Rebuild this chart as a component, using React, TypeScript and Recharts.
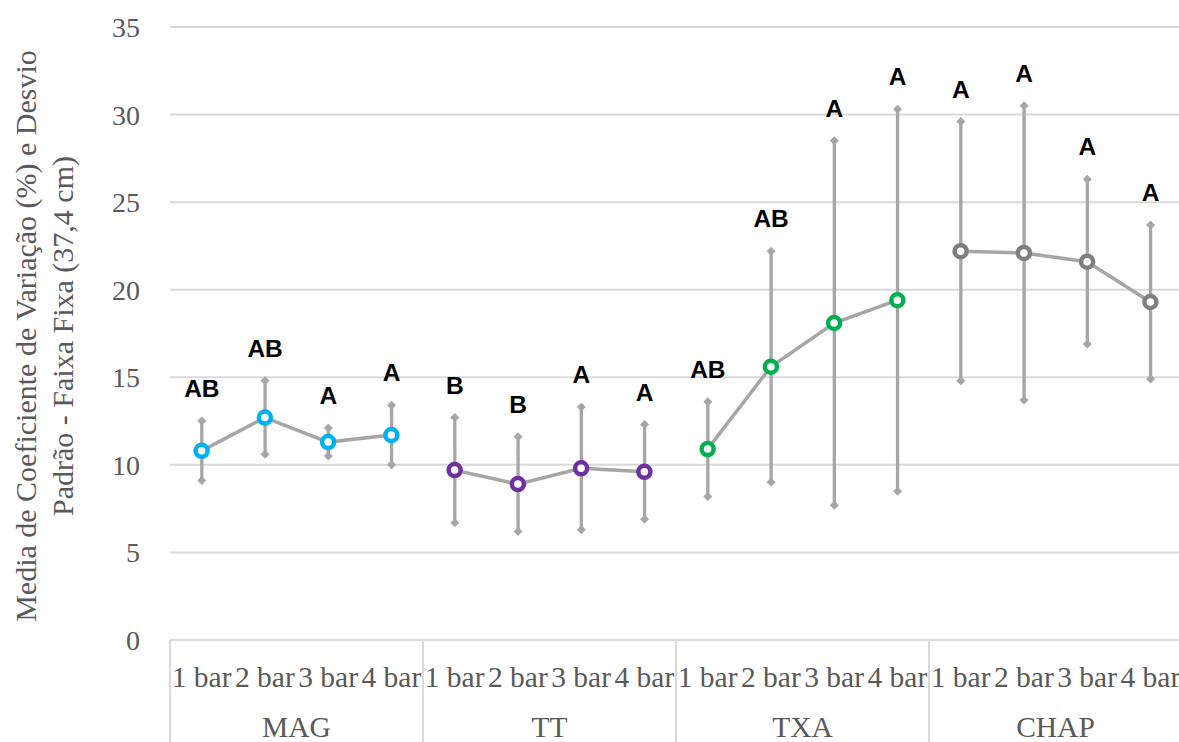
import React from "react";
import { ComposedChart, Bar, Line, XAxis, YAxis, CartesianGrid } from "recharts";

const groups = ["MAG", "TT", "TXA", "CHAP"];
const pressures = ["1 bar", "2 bar", "3 bar", "4 bar"];
const groupColors = ["#00b0f0", "#7030a0", "#00b050", "#7f7f7f"];

// mean CV (%) per group, 1..4 bar
const magMeans = [10.8, 12.7, 11.3, 11.7];
const ttMeans = [9.7, 8.9, 9.8, 9.6];
const txaMeans = [10.9, 15.6, 18.1, 19.4];
const chapMeans = [22.2, 22.1, 21.6, 19.3];

// standard deviation
const magSd = [1.7, 2.1, 0.8, 1.7];
const ttSd = [3.0, 2.7, 3.5, 2.7];
const txaSd = [2.7, 6.6, 10.4, 10.9];
const chapSd = [7.4, 8.4, 4.7, 4.4];

// Tukey letters
const magLetters = ["AB", "AB", "A", "A"];
const ttLetters = ["B", "B", "A", "A"];
const txaLetters = ["AB", "AB", "A", "A"];
const chapLetters = ["A", "A", "A", "A"];

const yTicks = [0, 5, 10, 15, 20, 25, 30, 35];
const yTitle = ["Media de Coeficiente de Variação (%) e Desvio", "Padrão - Faixa Fixa (37,4 cm)"];

const allMeans = [magMeans, ttMeans, txaMeans, chapMeans];
const allSd = [magSd, ttSd, txaSd, chapSd];
const allLetters = [magLetters, ttLetters, txaLetters, chapLetters];

const data = groups.flatMap((g, gi) =>
  pressures.map((p, pi) => {
    const m = allMeans[gi][pi];
    const sd = allSd[gi][pi];
    const row: any = {
      name: `${g}-${p}`,
      label: p,
      group: g,
      gi,
      pi,
      low: m - sd,
      range: 2 * sd,
      letter: allLetters[gi][pi],
    };
    groups.forEach((gg) => (row[gg] = gg === g ? m : null));
    return row;
  })
);

const W = 1182;
const H = 742;
const LEFT = 170;
const TOP = 27;
const XAXIS_H = 102;
const PLOT_BOTTOM = H - XAXIS_H;
const BAND = (W - LEFT) / data.length;

const SERIF = "Liberation Serif";
const SANS = "Liberation Sans";
const TEXT_GRAY = "#595959";
const LINE_GRAY = "#a6a6a6";
const GRID = "#d9d9d9";

const ErrorShape = (props: any) => {
  const { x, y, width, height } = props;
  const p = props.payload || props;
  if (x == null || y == null) return null;
  const cx = x + width / 2;
  const d = 4.5;
  const diamond = (yy: number) =>
    `M${cx},${yy - d} L${cx + d},${yy} L${cx},${yy + d} L${cx - d},${yy} Z`;
  return (
    <g>
      <line x1={cx} x2={cx} y1={y} y2={y + height} stroke={LINE_GRAY} strokeWidth={3.3} />
      <path d={diamond(y)} fill={LINE_GRAY} />
      <path d={diamond(y + height)} fill={LINE_GRAY} />
      <text
        x={cx}
        y={y - 24}
        textAnchor="middle"
        fontFamily={SANS}
        fontWeight="bold"
        fontSize={24.5}
        fill="#000"
      >
        {p.letter}
      </text>
    </g>
  );
};

const makeDot = (color: string) => (props: any) => {
  const { cx, cy, value, index } = props;
  if (value == null || cx == null || cy == null) return <g key={index} />;
  return (
    <circle key={index} cx={cx} cy={cy} r={6} fill="#fff" stroke={color} strokeWidth={4.5} />
  );
};

const CategoryTick = (props: any) => {
  const { x, index } = props;
  const row = data[index];
  if (!row) return null;
  const left = x - BAND / 2;
  return (
    <g>
      <text
        x={x}
        y={PLOT_BOTTOM + 37}
        textAnchor="middle"
        dominantBaseline="central"
        fontFamily={SERIF}
        fontSize={29.5}
        fill={TEXT_GRAY}
      >
        {row.label}
      </text>
      {row.pi === 0 && (
        <line x1={left} x2={left} y1={PLOT_BOTTOM} y2={H} stroke={GRID} strokeWidth={2} />
      )}
      {row.pi === 3 && (
        <line x1={x + BAND / 2} x2={x + BAND / 2} y1={PLOT_BOTTOM} y2={H} stroke={GRID} strokeWidth={2} />
      )}
      {row.pi === 1 && (
        <text
          x={x + BAND / 2}
          y={PLOT_BOTTOM + 87}
          textAnchor="middle"
          dominantBaseline="central"
          fontFamily={SERIF}
          fontSize={29.5}
          fill={TEXT_GRAY}
        >
          {row.group}
        </text>
      )}
    </g>
  );
};

export default function App() {
  return (
    <div
      style={{
        position: "absolute",
        left: 0,
        top: 0,
        width: 1179,
        height: H,
        overflow: "hidden",
        background: "#fff",
      }}
    >
      <ComposedChart
        width={W}
        height={H}
        data={data}
        margin={{ top: TOP, right: 0, bottom: 0, left: 0 }}
      >
        <CartesianGrid vertical={false} stroke={GRID} strokeWidth={2} />
        <XAxis
          dataKey="name"
          interval={0}
          height={XAXIS_H}
          axisLine={{ stroke: GRID, strokeWidth: 2 }}
          tickLine={false}
          tick={<CategoryTick />}
        />
        <YAxis
          domain={[0, 35]}
          ticks={yTicks}
          width={LEFT}
          axisLine={false}
          tickLine={false}
          tickMargin={24}
          tick={{ fontFamily: SERIF, fontSize: 28, fill: TEXT_GRAY }}
        />
        <Bar dataKey="low" stackId="err" fill="none" isAnimationActive={false} />
        <Bar dataKey="range" stackId="err" shape={<ErrorShape />} isAnimationActive={false} />
        {groups.map((g, gi) => (
          <Line
            key={g}
            dataKey={g}
            stroke={LINE_GRAY}
            strokeWidth={3.5}
            connectNulls={false}
            dot={makeDot(groupColors[gi])}
            activeDot={false}
            isAnimationActive={false}
          />
        ))}
      </ComposedChart>
      <svg
        width={110}
        height={H}
        style={{ position: "absolute", left: 0, top: 0, pointerEvents: "none" }}
      >
        {yTitle.map((t, i) => {
          const cx = i === 0 ? 25 : 62;
          const cy = 336;
          return (
            <text
              key={i}
              x={cx}
              y={cy}
              transform={`rotate(-90 ${cx} ${cy})`}
              textAnchor="middle"
              dominantBaseline="central"
              style={{ fontFamily: "'Liberation Serif', serif", fontSize: 30, fill: TEXT_GRAY }}
            >
              {t}
            </text>
          );
        })}
      </svg>
    </div>
  );
}
